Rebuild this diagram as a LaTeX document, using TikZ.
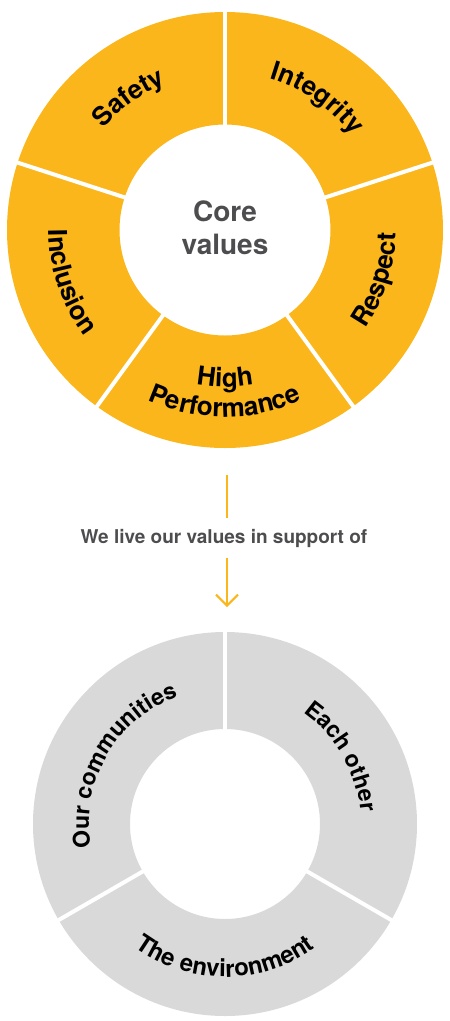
\documentclass[tikz,border=0pt]{standalone}
\usepackage{fontspec}
\setmainfont{TeX Gyre Heros}
\usetikzlibrary{decorations.text,arrows.meta}
\definecolor{valueorange}{HTML}{FBB61B}
\definecolor{ringgrey}{HTML}{D9D9D9}
\definecolor{coregrey}{HTML}{4D4D4F}
\newcommand\valfont{\bfseries\fontsize{26}{26}\selectfont}
\newcommand\carefont{\bfseries\fontsize{23}{23}\selectfont}
\begin{document}
\begin{tikzpicture}[x=1pt,y=1pt,
  gap/.style={white,line width=4pt},
  arclabel/.style={decorate,decoration={text along path,text align=center,text={#1}}},
  flow/.style={valueorange,line width=2pt}]
  \useasboundingbox (0,0) rectangle (450,-1021);
  % core values ring
  \begin{scope}[shift={(225,-230)}]
    \fill[valueorange,even odd rule] (0,0) circle[radius=218] (0,0) circle[radius=105.5];
    \foreach \a in {90,18,-54,-126,162}
      \draw[gap] (\a:100) -- (\a:224);
    \node[align=center,text=coregrey,font=\bfseries\fontsize{28}{33}\selectfont] (core) at (0,2) {Core\\values};
    \path[arclabel={|\valfont|Safety}] (166:158) arc[start angle=166,end angle=86,radius=158];
    \path[arclabel={|\valfont|Integrity}] (100:158) arc[start angle=100,end angle=10,radius=158];
    \path[arclabel={|\valfont|Respect}] (-58:171) arc[start angle=-58,end angle=22,radius=171];
    \path[arclabel={|\valfont|Inclusion}] (155:176) arc[start angle=155,end angle=242,radius=176];
    \path[arclabel={|\valfont|High}] (-125:157) arc[start angle=-125,end angle=-55,radius=157];
    \path[arclabel={|\valfont|Performance}] (-145:187) arc[start angle=-145,end angle=-35,radius=187];
  \end{scope}
  % link
  \coordinate (stem) at (227,-475);
  \coordinate (tip) at (227,-607);
  \node[anchor=base,inner ysep=11pt,text=coregrey,font=\bfseries\fontsize{19}{19}\selectfont] (sup) at (224,-543) {We live our values in support of};
  \draw[flow] (stem) -- (stem |- sup.north);
  \draw[flow,-{Straight Barb[length=11pt,width=22pt]}] (stem |- sup.south) -- (tip);
  % who we support
  \begin{scope}[shift={(225,-824)}]
    \fill[ringgrey,even odd rule] (0,0) circle[radius=192] (0,0) circle[radius=95];
    \foreach \a in {90,-30,210}
      \draw[gap] (\a:90) -- (\a:198);
    \path[arclabel={|\carefont|Our communities}] (215:136) arc[start angle=215,end angle=85,radius=136];
    \path[arclabel={|\carefont|Each other}] (85:136) arc[start angle=85,end angle=-25,radius=136];
    \path[arclabel={|\bfseries\fontsize{24}{24}\selectfont|The environment}] (-165:153) arc[start angle=-165,end angle=-15,radius=153];
  \end{scope}
\end{tikzpicture}
\end{document}
